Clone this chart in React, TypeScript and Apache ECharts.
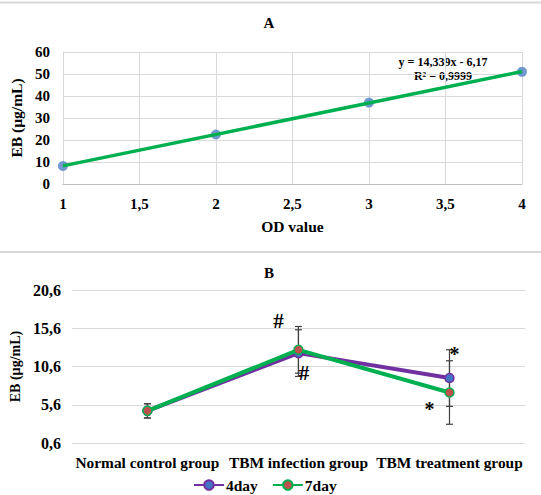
import React, { useEffect, useRef } from "react";
import * as echarts from "echarts";

// ---- Panel A data ----
const odValues = [1, 2, 3, 4];
const ebValues = [8.2, 22.5, 37, 51];
const equationText = "y = 14,339x - 6,17";
const r2Text = "R² = 0,9999";

// ---- Panel B data ----
const groups = ["Normal control group", "TBM infection group", "TBM treatment group"];
const day4 = [4.8, 12.35, 9.09];
const day4Err = [0.93, 3.05, 3.7];
const day7 = [4.8, 12.78, 7.2];
const day7Err = [0.93, 3.05, 4.15];
const yBaseB = 0.6;
const yTickLabelsB = ["0,6", "5,6", "10,6", "15,6", "20,6"];
// significance marks: [category index, value, pixel dx, text]
const marks: [number, number, number, string][] = [
  [1, 16.6, -20, "#"],
  [1, 9.8, 5.5, "#"],
  [2, 12.2, 5, "*"],
  [2, 5.0, -20, "*"],
];

const FONT = "Liberation Serif";
const GRID_COLOR = "#d9d9d9";

function linearFit(xs: number[], ys: number[]) {
  const n = xs.length;
  const mx = xs.reduce((a, b) => a + b, 0) / n;
  const my = ys.reduce((a, b) => a + b, 0) / n;
  let sxy = 0, sxx = 0;
  for (let i = 0; i < n; i++) {
    sxy += (xs[i] - mx) * (ys[i] - my);
    sxx += (xs[i] - mx) * (xs[i] - mx);
  }
  const slope = sxy / sxx;
  return { slope, intercept: my - slope * mx };
}

export default function App() {
  const ref = useRef<HTMLDivElement>(null);
  useEffect(() => {
    if (!ref.current) return;
    const chart = echarts.init(ref.current, undefined, { renderer: "svg" });
    const fit = linearFit(odValues, ebValues);
    const xMin = odValues[0];
    const xMax = odValues[odValues.length - 1];
    const trend = [
      [xMin, fit.slope * xMin + fit.intercept],
      [xMax, fit.slope * xMax + fit.intercept],
    ];
    const bold = { fontFamily: FONT, fontWeight: "bold" as const, color: "#000" };
    const comma = (v: number) => String(v).replace(".", ",");

    const errData = (vals: number[], errs: number[]) =>
      vals.map((v, i) => [i, v - yBaseB, errs[i]]);

    const errorSeries = (name: string, vals: number[], errs: number[]) => ({
      type: "custom",
      name: name + "-err",
      xAxisIndex: 1,
      yAxisIndex: 1,
      z: 1,
      data: errData(vals, errs),
      renderItem: (params: any, api: any) => {
        const x = api.value(0);
        const v = api.value(1);
        const e = api.value(2);
        const top = api.coord([x, v + e]);
        const bot = api.coord([x, v - e]);
        const w = 3.5;
        const st = { stroke: "#404040", lineWidth: 1.2 };
        return {
          type: "group",
          children: [
            { type: "line", shape: { x1: top[0], y1: top[1], x2: bot[0], y2: bot[1] }, style: st },
            { type: "line", shape: { x1: top[0] - w, y1: top[1], x2: top[0] + w, y2: top[1] }, style: st },
            { type: "line", shape: { x1: bot[0] - w, y1: bot[1], x2: bot[0] + w, y2: bot[1] }, style: st },
          ],
        };
      },
    });

    const option: any = {
      animation: false,
      graphic: [
        { type: "line", shape: { x1: 0, y1: 2.5, x2: 541, y2: 2.5 }, style: { stroke: "#d9d9d9", lineWidth: 2 } },
        { type: "line", shape: { x1: 0, y1: 252, x2: 541, y2: 252 }, style: { stroke: "#d9d9d9", lineWidth: 2 } },
        { type: "text", x: 269, y: 23, style: { text: "A", fill: "#000", font: `bold 15px "${FONT}"`, align: "center", verticalAlign: "middle" } },
        { type: "text", x: 269, y: 273, style: { text: "B", fill: "#000", font: `bold 15px "${FONT}"`, align: "center", verticalAlign: "middle" } },
        { type: "text", x: 443, y: 62, style: { text: equationText, fill: "#000", font: `bold 12px "${FONT}"`, align: "center", verticalAlign: "middle" } },
        { type: "text", x: 443, y: 76, style: { text: r2Text, fill: "#000", font: `bold 12px "${FONT}"`, align: "center", verticalAlign: "middle" } },
      ],
      legend: {
        data: ["4day", "7day"],
        left: 188,
        top: 472,
        itemWidth: 30,
        itemHeight: 12,
        itemGap: 14,
        textStyle: { ...bold, fontSize: 15.5, padding: [0, 0, 0, -3] },
      },
      grid: [
        { left: 57, right: 19, top: 52, height: 132 },
        { left: 68, right: 16, top: 290, height: 153 },
      ],
      xAxis: [
        {
          type: "value",
          gridIndex: 0,
          min: 1,
          max: 4,
          interval: 0.5,
          name: "OD value",
          nameLocation: "middle",
          nameGap: 34,
          nameTextStyle: { ...bold, fontSize: 15.5 },
          axisLine: { lineStyle: { color: "#bfbfbf" } },
          axisTick: { show: false },
          axisLabel: { ...bold, fontSize: 15, margin: 12, formatter: (v: number) => comma(v) },
          splitLine: { show: true, lineStyle: { color: GRID_COLOR } },
        },
        {
          type: "category",
          gridIndex: 1,
          data: groups,
          axisLine: { show: false },
          axisTick: { show: false },
          axisLabel: { ...bold, fontSize: 15.4, margin: 12, interval: 0 },
        },
      ],
      yAxis: [
        {
          type: "value",
          gridIndex: 0,
          min: 0,
          max: 60,
          interval: 10,
          name: "EB (µg/mL)",
          nameLocation: "middle",
          nameGap: 36,
          nameTextStyle: { ...bold, fontSize: 15.5 },
          axisLine: { show: true, lineStyle: { color: GRID_COLOR } },
          axisTick: { show: false },
          axisLabel: { ...bold, fontSize: 15, margin: 13 },
          splitLine: { show: true, lineStyle: { color: GRID_COLOR } },
        },
        {
          type: "value",
          gridIndex: 1,
          min: 0,
          max: 20,
          interval: 5,
          name: "EB (µg/mL)",
          nameLocation: "middle",
          nameGap: 49,
          nameTextStyle: { ...bold, fontSize: 14 },
          axisLine: { show: false },
          axisTick: { show: false },
          axisLabel: {
            ...bold,
            fontSize: 16,
            margin: 11,
            formatter: (v: number) => yTickLabelsB[Math.round(v / 5)],
          },
          splitLine: { show: true, lineStyle: { color: GRID_COLOR } },
        },
      ],
      series: [
        {
          type: "scatter",
          name: "EB",
          xAxisIndex: 0,
          yAxisIndex: 0,
          data: odValues.map((x, i) => [x, ebValues[i]]),
          symbolSize: 10,
          itemStyle: { color: "#4f7fc4" },
          z: 2,
        },
        {
          type: "line",
          name: "trend",
          xAxisIndex: 0,
          yAxisIndex: 0,
          data: trend,
          showSymbol: false,
          lineStyle: { color: "#00b050", width: 3.5 },
          z: 3,
        },
        errorSeries("4day", day4, day4Err),
        errorSeries("7day", day7, day7Err),
        {
          type: "line",
          name: "4day",
          xAxisIndex: 1,
          yAxisIndex: 1,
          data: day4.map((v) => v - yBaseB),
          symbol: "circle",
          symbolSize: 9,
          lineStyle: { color: "#7030a0", width: 4 },
          itemStyle: { color: "#4472c4", borderColor: "#7030a0", borderWidth: 1.5 },
          z: 3,
        },
        {
          type: "line",
          name: "7day",
          xAxisIndex: 1,
          yAxisIndex: 1,
          data: day7.map((v) => v - yBaseB),
          symbol: "circle",
          symbolSize: 9,
          lineStyle: { color: "#00b050", width: 4 },
          itemStyle: { color: "#c0504d", borderColor: "#00b050", borderWidth: 1.5 },
          z: 4,
        },
        {
          type: "custom",
          name: "marks",
          xAxisIndex: 1,
          yAxisIndex: 1,
          z: 5,
          data: marks.map((m) => [m[0], m[1] - yBaseB, m[2]]),
          renderItem: (params: any, api: any) => {
            const p = api.coord([api.value(0), api.value(1)]);
            const t = marks[params.dataIndex][3];
            return {
              type: "text",
              x: p[0] + api.value(2),
              y: p[1],
              style: {
                text: t,
                fill: "#000",
                font: `bold ${t === "#" ? 21 : 20}px "${FONT}"`,
                align: "center",
                verticalAlign: "middle",
              },
            };
          },
        },
      ],
    };
    chart.setOption(option);
    return () => chart.dispose();
  }, []);
  return (
    <div
      ref={ref}
      style={{ position: "fixed", left: 0, top: 0, width: 541, height: 495, background: "#fff" }}
    />
  );
}
